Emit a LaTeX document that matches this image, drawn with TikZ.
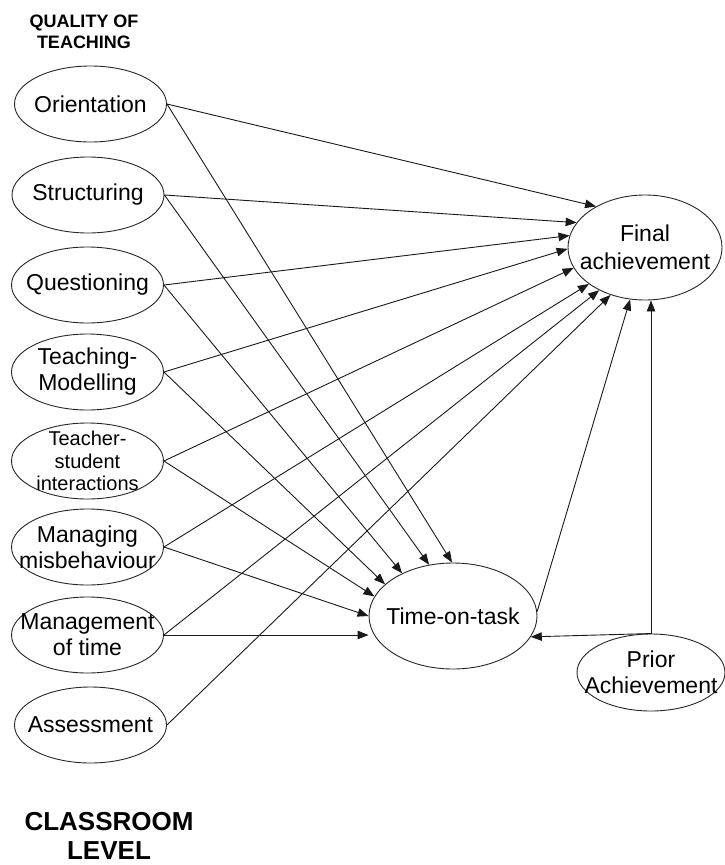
\documentclass[tikz,border=0pt]{standalone}
\usepackage{fontspec}
\setmainfont{Liberation Sans}
\usetikzlibrary{shapes.geometric,arrows.meta}

\tikzset{
  ell/.style={ellipse, draw=black!85, line width=0.9pt, inner sep=0pt,
              minimum width=152pt, minimum height=76pt},
  txt/.style={font=\fontsize{23}{26}\selectfont, align=center, inner sep=0pt},
  smalltxt/.style={font=\fontsize{20}{22.5}\selectfont, align=center, inner sep=0pt},
  arr/.style={draw=black!90, line width=0.9pt,
              -{Triangle[length=11pt,width=8.5pt]}},
  heading/.style={font=\bfseries, align=center, inner sep=0pt}
}

\begin{document}
\begin{tikzpicture}[x=1pt,y=-1pt]
  \useasboundingbox (0,0) rectangle (725,865);

  % headings
  \node[heading, font=\bfseries\fontsize{18}{21}\selectfont] (qt) at (84,31.5) {QUALITY OF\\TEACHING};
  \node[heading, font=\bfseries\fontsize{26}{29}\selectfont] (cl) at (109,836) {CLASSROOM\\LEVEL};

  % teaching factors
  \node[ell, label={[txt]center:Orientation}] (o) at (90.5,104) {};
  \node[ell, label={[txt]center:Structuring}] (s) at (88,195) {};
  \node[ell, label={[txt]center:Questioning}] (q) at (87.5,285) {};
  \node[ell, label={[txt]center:{Teaching-\\Modelling}}] (tm) at (87.5,372) {};
  \node[ell, label={[smalltxt]center:{Teacher-\\student\\interactions}}] (ts) at (87.5,461) {};
  \node[ell, label={[txt]center:{Managing\\misbehaviour}}] (mm) at (87.5,547) {};
  \node[ell, label={[txt]center:{Management\\of time}}] (mt) at (87.5,635) {};
  \node[ell, label={[txt]center:Assessment}] (as) at (90.5,725) {};

  % outcomes
  \node[ell, minimum width=154pt, minimum height=105pt,
        label={[txt, font=\fontsize{23}{28}\selectfont]center:{Final\\achievement}}] (fa) at (645,247.5) {};
  \node[ell, minimum width=168pt, minimum height=106pt,
        label={[txt]center:Time-on-task}] (tt) at (453,616) {};
  \node[ell, minimum width=148pt, minimum height=77pt,
        label={[txt]center:{Prior\\Achievement}}] (pa) at (651,672.5) {};

  % effects on final achievement
  \draw[arr] (o.east)  -- (fa.140.5);
  \draw[arr] (s.east)  -- (fa.160.2);
  \draw[arr] (q.east)  -- (fa.171.4);
  \draw[arr] (tm.east) -- (fa.181.8);
  \draw[arr] (ts.east) -- (fa.196.4);
  \draw[arr] (mm.east) -- (fa.213.1);
  \draw[arr] (mt.east) -- (fa.223.4);
  \draw[arr] (as.east) -- (fa.234.7);

  % effects on time-on-task
  \draw[arr] (o.east)  -- (tt.91);
  \draw[arr] (s.east)  -- (tt.115.2);
  \draw[arr] (q.east)  -- (tt.140.5);
  \draw[arr] (tm.east) -- (tt.155.7);
  \draw[arr] (ts.east) -- (tt.166);
  \draw[arr] (mm.east) -- (tt.180);
  \draw[arr] (mt.east) -- (tt.west |- mt.east);

  % time-on-task and prior achievement
  \draw[arr] (tt.3) -- (fa.254.6);
  \draw[arr] (pa.north) -- (pa.north |- fa.south);
  \draw[arr] (pa.north) -- (tt.345.6);
\end{tikzpicture}
\end{document}
